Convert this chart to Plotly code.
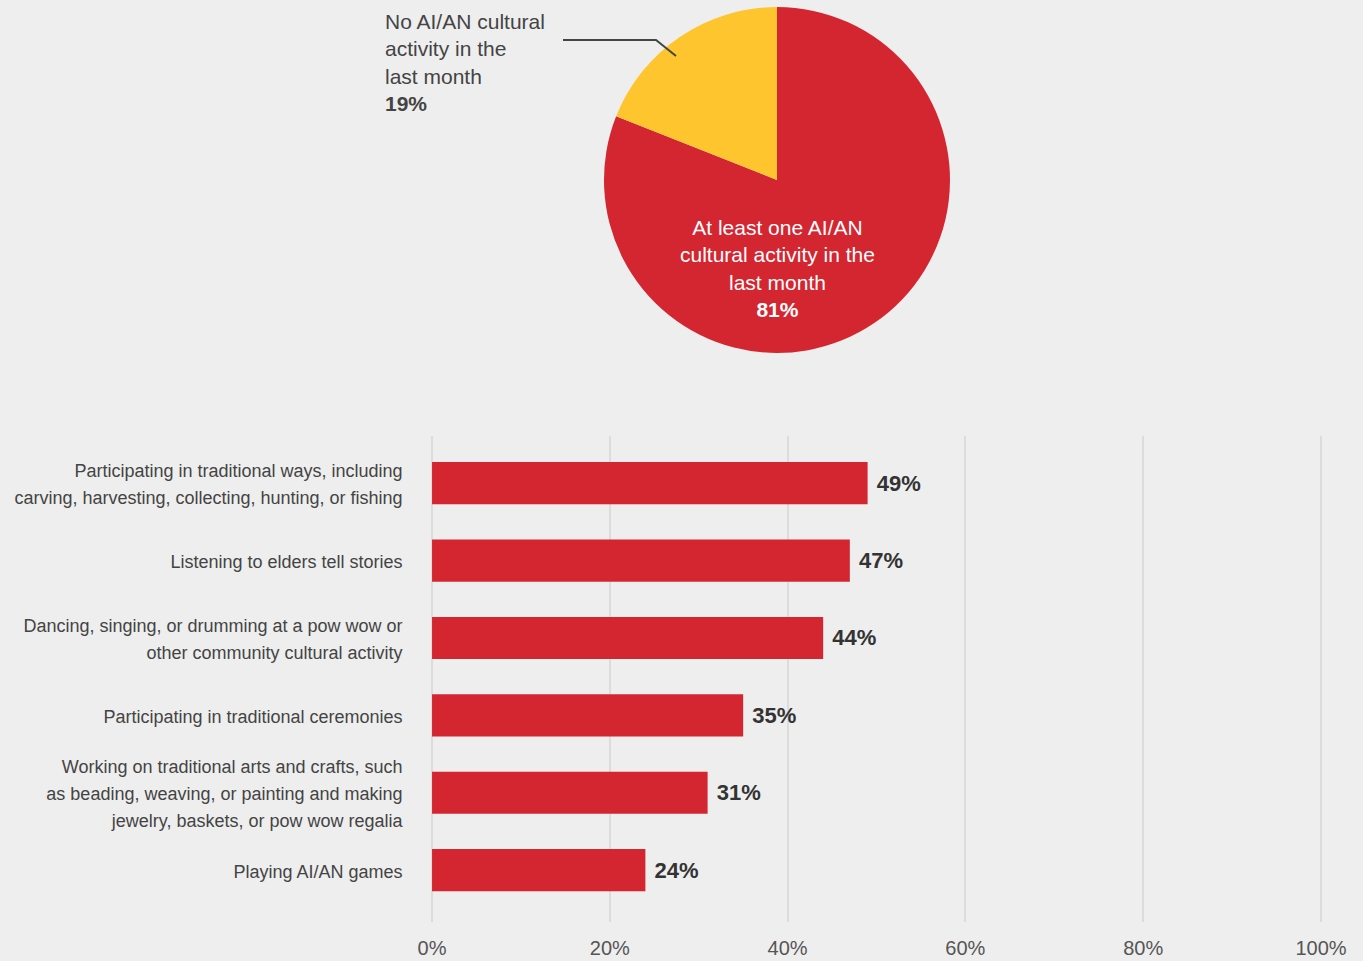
import plotly.graph_objects as go

W, H = 1363, 961

# Pie data
pie_labels = ["At least one AI/AN cultural activity in the last month",
              "No AI/AN cultural activity in the last month"]
pie_values = [81, 19]
pie_colors = ["#d42631", "#ffc52e"]

# Bar data
category_lines = [
    ["Participating in traditional ways, including",
     "carving, harvesting, collecting, hunting, or fishing"],
    ["Listening to elders tell stories"],
    ["Dancing, singing, or drumming at a pow wow or",
     "other community cultural activity"],
    ["Participating in traditional ceremonies"],
    ["Working on traditional arts and crafts, such",
     "as beading, weaving, or painting and making",
     "jewelry, baskets, or pow wow regalia"],
    ["Playing AI/AN games"],
]
bar_values = [49, 47, 44, 35, 31, 24]
x_ticks = [0, 20, 40, 60, 80, 100]
x_tick_text = ["0%", "20%", "40%", "60%", "80%", "100%"]

categories = ["<br>".join(f"<span style='font-size:18px'>{ln}</span>" for ln in lines)
              for lines in category_lines]

FONT = "Liberation Sans, Arial, Helvetica, sans-serif"
TXT = "#444444"

def px_x(p):
    return p / W

def px_y(p):
    return 1 - p / H

fig = go.Figure()

fig.add_trace(go.Pie(
    labels=pie_labels, values=pie_values, sort=False, direction="clockwise",
    rotation=0, marker=dict(colors=pie_colors, line=dict(width=0)),
    textinfo="none", hoverinfo="none", showlegend=False,
    domain=dict(x=[px_x(604), px_x(950)], y=[px_y(353), px_y(7)]),
))

fig.add_trace(go.Bar(
    y=categories, x=bar_values, orientation="h",
    marker=dict(color="#d42631", line=dict(width=0)),
    width=0.545,
    text=["\u00a0" + f"{v}%" for v in bar_values],
    textposition="outside",
    textfont=dict(family=FONT, size=22, color="#333333", weight="bold"),
    cliponaxis=False, hoverinfo="none", showlegend=False,
))

fig.update_layout(
    width=W, height=H, autosize=False,
    margin=dict(l=0, r=0, t=0, b=0, pad=0, autoexpand=False),
    paper_bgcolor="#eeeeee", plot_bgcolor="#eeeeee",
    font=dict(family=FONT, color=TXT),
    xaxis=dict(
        domain=[px_x(427.6), px_x(1325.4)], range=[-0.5, 100.5],
        tickvals=x_ticks, ticktext=x_tick_text,
        showgrid=True, gridcolor="#dcdcdc", gridwidth=1.5,
        zeroline=False, showline=False, ticks="",
        tickfont=dict(size=20, color="#555555"),
        ticklabelstandoff=12, fixedrange=True, automargin=False,
    ),
    yaxis=dict(
        domain=[px_y(922), px_y(436)],
        categoryorder="array", categoryarray=categories,
        range=[5.67, -0.61],
        showgrid=False, zeroline=False, showline=False, ticks="",
        tickfont=dict(size=21, color=TXT),
        ticklabelstandoff=24, fixedrange=True, automargin=False,
    ),
    annotations=[
        dict(xref="paper", yref="paper", x=px_x(777), y=px_y(269),
             xanchor="center", yanchor="middle", showarrow=False, align="center",
             text="At least one AI/AN<br>cultural activity in the<br>last month<br><b>81%</b>",
             font=dict(family=FONT, size=21, color="#ffffff")),
        dict(xref="paper", yref="paper", x=px_x(383), y=px_y(62.5),
             xanchor="left", yanchor="middle", showarrow=False, align="left",
             text="No AI/AN cultural<br>activity in the<br>last month<br><b>19%</b>",
             font=dict(family=FONT, size=21, color=TXT)),
    ],
    shapes=[
        dict(type="path", xref="paper", yref="paper",
             path=f"M {px_x(563)} {px_y(40)} L {px_x(656)} {px_y(40)} L {px_x(676)} {px_y(56)}",
             line=dict(color="#444444", width=2)),
    ],
)

fig.write_html("out.html")
